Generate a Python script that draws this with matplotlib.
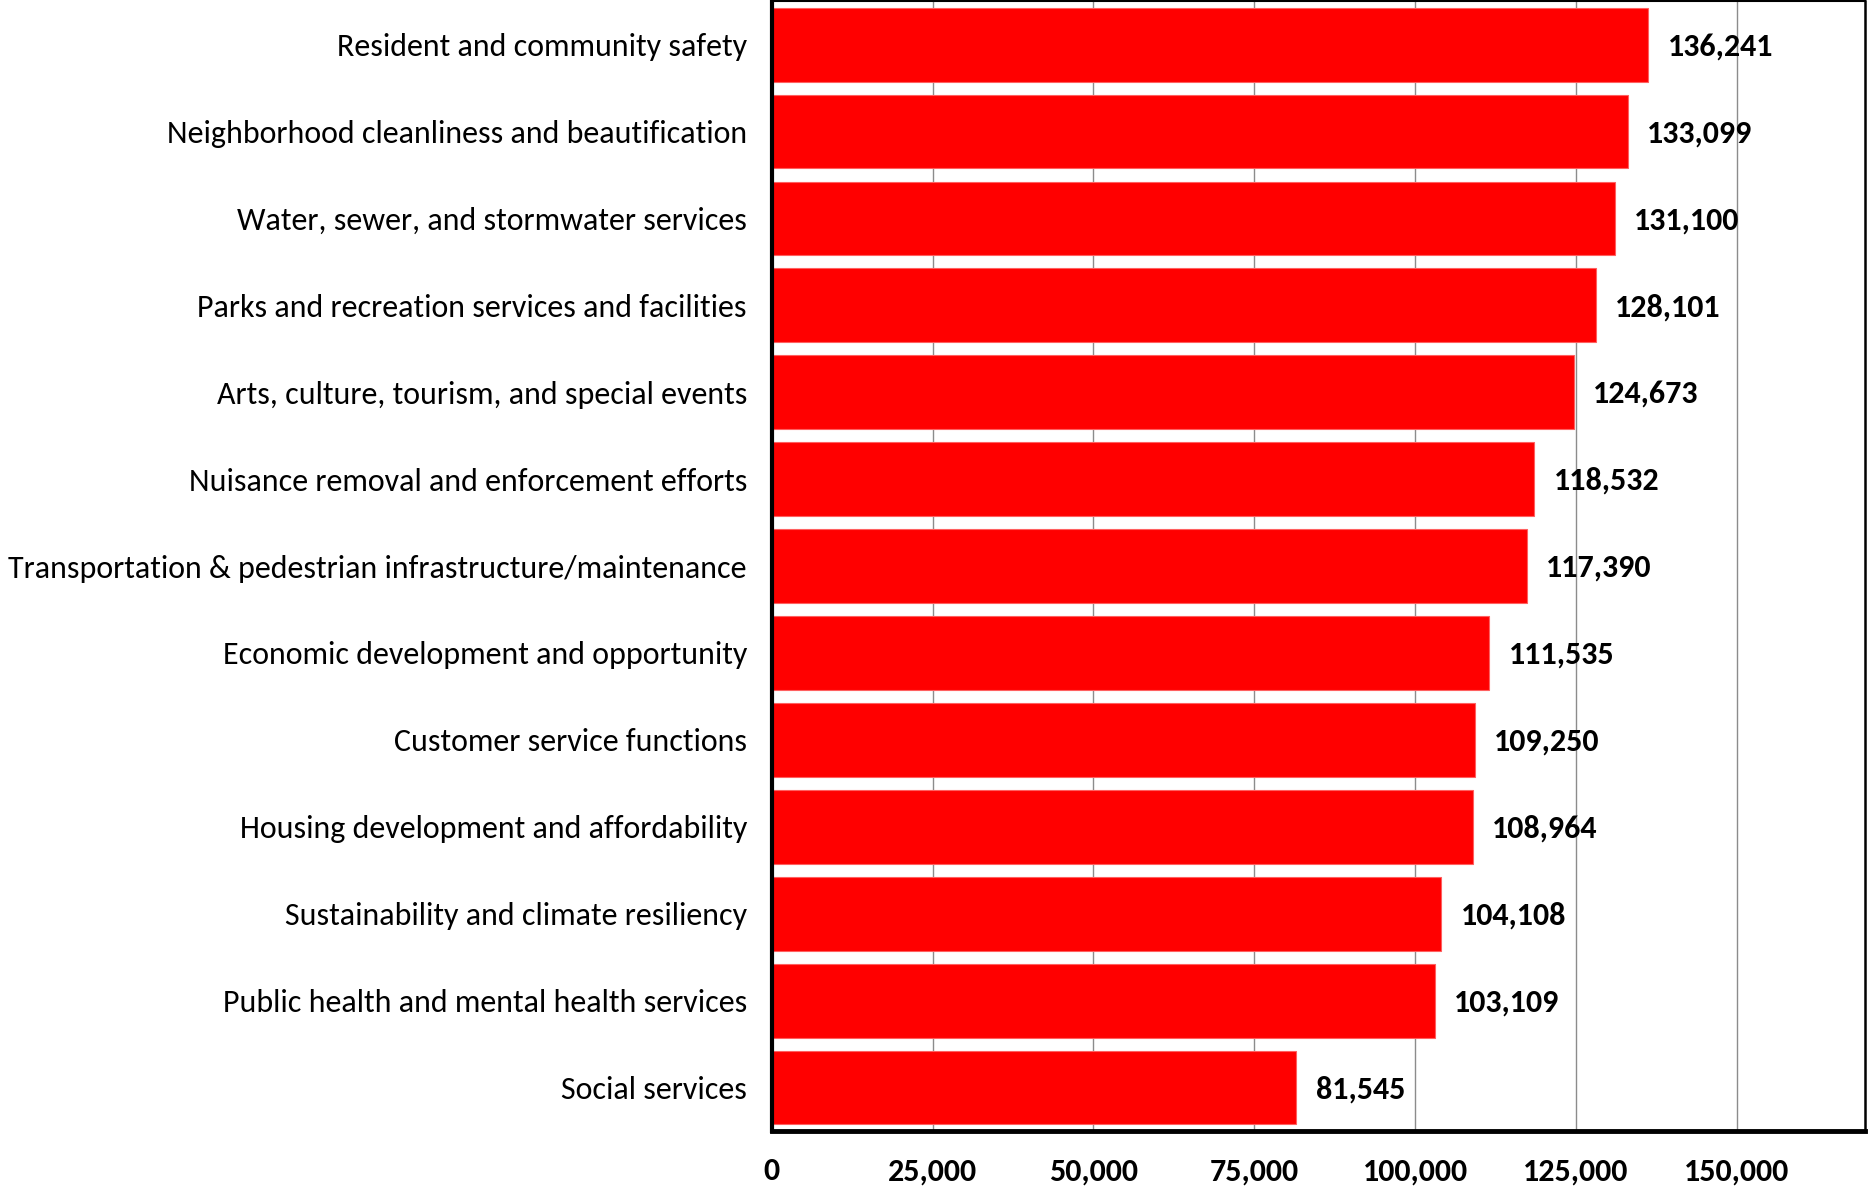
import matplotlib.pyplot as plt
from matplotlib.ticker import FuncFormatter

categories = [
    "Resident and community safety",
    "Neighborhood cleanliness and beautification",
    "Water, sewer, and stormwater services",
    "Parks and recreation services and facilities",
    "Arts, culture, tourism, and special events",
    "Nuisance removal and enforcement efforts",
    "Transportation & pedestrian infrastructure/maintenance",
    "Economic development and opportunity",
    "Customer service functions",
    "Housing development and affordability",
    "Sustainability and climate resiliency",
    "Public health and mental health services",
    "Social services",
]
values = [136241, 133099, 131100, 128101, 124673, 118532, 117390,
          111535, 109250, 108964, 104108, 103109, 81545]
xticks = [0, 25000, 50000, 75000, 100000, 125000, 150000]

plt.rcParams['font.family'] = ['Carlito', 'Liberation Sans Narrow', 'DejaVu Sans']

fig = plt.figure(figsize=(18.69, 11.87), dpi=100)
ax = fig.add_axes([0.413, 0.0472, 0.585, 0.9518])

ypos = list(range(len(categories)))
ax.barh(ypos, values, height=0.85, color='#FF0000', edgecolor='#FF6060',
        linewidth=0.8, zorder=2)
for y, v in zip(ypos, values):
    ax.text(v + 3000, y + 0.02, f"{v:,}", va='center', ha='left',
            fontsize=23, fontweight='bold', color='black', zorder=3)

ax.set_ylim(len(categories) - 0.5, -0.5)
ax.set_xlim(0, 170000)
ax.set_yticks(ypos)
ax.set_yticklabels(categories, fontsize=23)
ax.set_xticks(xticks)
ax.xaxis.set_major_formatter(FuncFormatter(lambda x, p: f"{int(x):,}"))
for lab in ax.get_xticklabels():
    lab.set_fontweight('bold')
    lab.set_fontsize(23)
ax.tick_params(axis='both', length=0)
ax.tick_params(axis='x', pad=19)
ax.tick_params(axis='y', pad=18)

ax.grid(axis='x', color='#8c8c8c', linewidth=1.0, zorder=0)
ax.set_axisbelow(True)
ax.spines['left'].set_linewidth(3)
ax.spines['bottom'].set_linewidth(3.5)
ax.spines['right'].set_linewidth(1.8)
ax.spines['top'].set_linewidth(1.5)

fig.savefig('out.png', dpi=100)
